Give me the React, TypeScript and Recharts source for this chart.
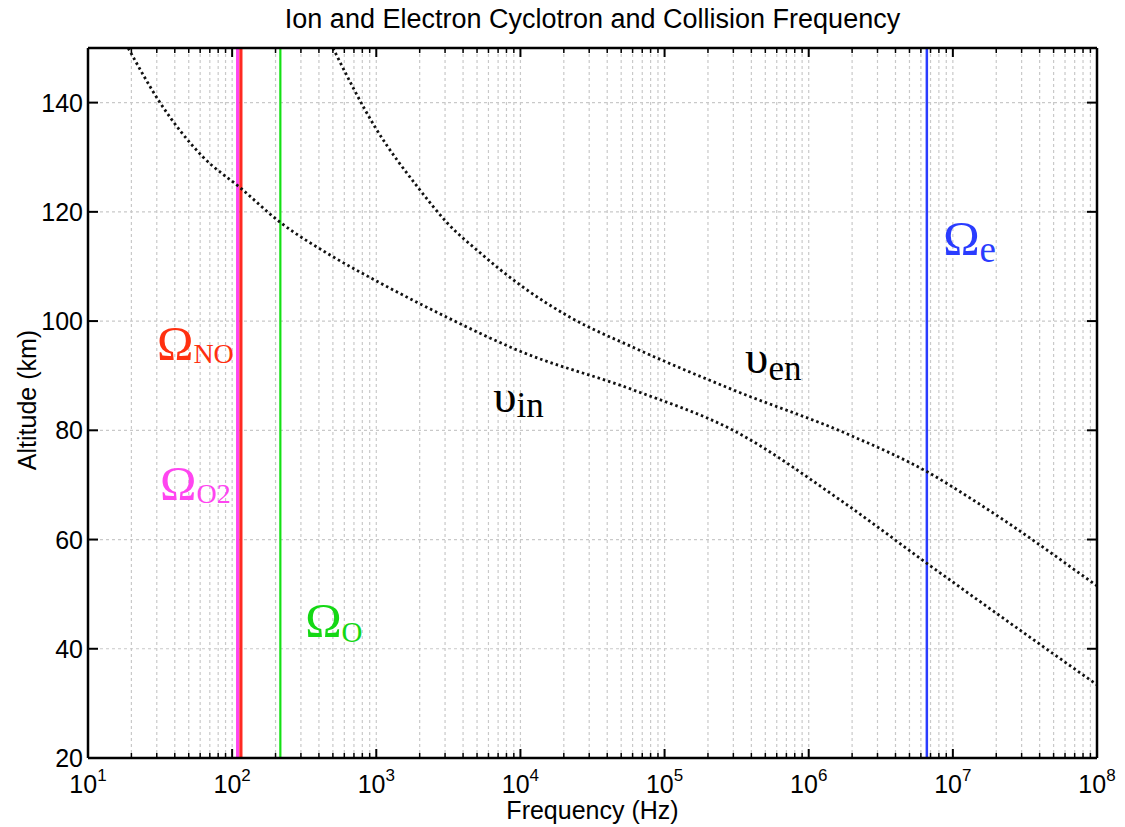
import { LineChart, Line, XAxis, YAxis, CartesianGrid, ReferenceLine, ReferenceDot } from "recharts";

// ion-neutral collision frequency (Hz) vs altitude (km)
const nuInFreq = [19, 31.6, 63, 114, 215, 478, 1060, 3090, 9480, 60500, 299000, 1660000, 6970000, 100000000];
const nuInAlt = [150, 140, 130, 124.4, 118.1, 112.1, 107, 100.7, 94.7, 87.4, 80.0, 67.2, 55.2, 33.4];

// electron-neutral collision frequency
const nuEnFreq = [500, 982, 2010, 3100, 5250, 9950, 22100, 60500, 299000, 1940000, 6640000, 13900000, 100000000];
const nuEnAlt = [150, 135.5, 124.0, 118.0, 112.5, 106.6, 100.7, 95.2, 87.4, 79.1, 72.4, 67.2, 51.5];

// cyclotron frequencies (Hz)
const gyroSpecies = ["O2", "NO", "O", "e"];
const gyroFreq = [109, 115, 216, 6600000];

const xDecades = [10, 100, 1000, 10000, 100000, 1000000, 10000000, 100000000];
const xExponents = ["1", "2", "3", "4", "5", "6", "7", "8"];
const xMinorSteps = [2, 3, 4, 5, 6, 7, 8, 9];
const yTicks = [20, 40, 60, 80, 100, 120, 140];

const xTicks = [...xDecades, ...xDecades.slice(0, -1).flatMap((d) => xMinorSteps.map((m) => d * m))].sort((a, b) => a - b);

const nuIn = nuInFreq.map((f, i) => ({ f, alt: nuInAlt[i] }));
const nuEn = nuEnFreq.map((f, i) => ({ f, alt: nuEnAlt[i] }));

const gyroStyle: Record<string, { color: string; width: number }> = {
  O2: { color: "#ff45f0", width: 3 },
  NO: { color: "#ff2a22", width: 3.2 },
  O: { color: "#14e014", width: 2.2 },
  e: { color: "#2a3cff", width: 2.5 },
};

// label anchors in data coordinates (left end, baseline)
const annotations = [
  { main: "Ω", sub: "NO", f: 30.1, alt: 92.9, color: "#ff3010", subSize: 28, subDy: 3 },
  { main: "Ω", sub: "O2", f: 31.6, alt: 67.2, color: "#ff45f0", subSize: 28, subDy: 3 },
  { main: "Ω", sub: "O", f: 321, alt: 42.2, color: "#14d814", subSize: 29, subDy: 5 },
  { main: "Ω", sub: "e", f: 8570000, alt: 112.1, color: "#2a3cff", subSize: 37, subDy: 7 },
  { main: "υ", sub: "en", f: 362000, alt: 90.5, color: "#000", subSize: 35, subDy: 7 },
  { main: "υ", sub: "in", f: 6470, alt: 83.3, color: "#000", subSize: 35, subDy: 5 },
];

const SANS = "'Liberation Sans', Arial, sans-serif";
const SERIF = "'Liberation Serif', 'Times New Roman', serif";

const isDecade = (v: number) => xDecades.includes(v);

function XTick({ x, y, payload, side }: any) {
  const v = payload.value;
  const major = isDecade(v);
  const len = major ? 9 : 5;
  const dir = side === "bottom" ? -1 : 1;
  const idx = xDecades.indexOf(v);
  return (
    <g>
      <line x1={x} x2={x} y1={y} y2={y + dir * len} stroke="#000" strokeWidth={major ? 2 : 1.5} />
      {major && side === "bottom" && (
        <text x={x} y={y + 35} textAnchor="middle" fontFamily={SANS} fontSize={25} fill="#000">
          10
          <tspan dy={-12} fontSize={17}>
            {xExponents[idx]}
          </tspan>
        </text>
      )}
    </g>
  );
}

function YTick({ x, y, payload, side }: any) {
  const dir = side === "left" ? 1 : -1;
  return (
    <g>
      <line x1={x} x2={x + dir * 10} y1={y} y2={y} stroke="#000" strokeWidth={2} />
      {side === "left" && (
        <text x={x - 5} y={y + 9} textAnchor="end" fontFamily={SANS} fontSize={25} fill="#000">
          {payload.value}
        </text>
      )}
    </g>
  );
}

function GreekLabel({ cx, cy, a }: any) {
  return (
    <text x={cx} y={cy} fontFamily={SERIF} fill={a.color}>
      <tspan fontSize={a.main === "Ω" ? 49 : 47}>{a.main}</tspan>
      <tspan fontSize={a.subSize} dy={a.subDy}>
        {a.sub}
      </tspan>
    </text>
  );
}

const axisLine = { stroke: "#000", strokeWidth: 2.5 };

export default function App() {
  return (
    <div style={{ position: "absolute", left: 0, top: 0, width: 1125, height: 827, background: "#fff" }}>
      <LineChart width={1125} height={827} margin={{ top: 38, right: 18, bottom: 29, left: 28 }}>
        <CartesianGrid stroke="#c9c9c9" strokeDasharray="3 3" strokeWidth={1.2} />
        <XAxis
          dataKey="f"
          type="number"
          scale="log"
          domain={[10, 100000000]}
          allowDataOverflow
          ticks={xTicks}
          interval={0}
          tickLine={false}
          tickSize={0}
          tickMargin={0}
          height={40}
          axisLine={axisLine}
          tick={(p: any) => <XTick {...p} side="bottom" />}
          label={{
            content: ({ viewBox }: any) => (
              <text x={viewBox.x + viewBox.width / 2} y={819} textAnchor="middle" fontFamily={SANS} fontSize={25} fill="#000">
                Frequency (Hz)
              </text>
            ),
          }}
        />
        <XAxis
          xAxisId="top"
          orientation="top"
          dataKey="f"
          type="number"
          scale="log"
          domain={[10, 100000000]}
          allowDataOverflow
          ticks={xTicks}
          interval={0}
          tickLine={false}
          tickSize={0}
          tickMargin={0}
          height={10}
          axisLine={axisLine}
          tick={(p: any) => <XTick {...p} side="top" />}
          label={{
            content: ({ viewBox }: any) => (
              <text x={viewBox.x + viewBox.width / 2} y={28} textAnchor="middle" fontFamily={SANS} fontSize={27} fill="#000">
                Ion and Electron Cyclotron and Collision Frequency
              </text>
            ),
          }}
        />
        <YAxis
          type="number"
          domain={[20, 150]}
          allowDataOverflow
          ticks={yTicks}
          interval={0}
          tickLine={false}
          tickSize={0}
          tickMargin={0}
          width={60}
          axisLine={axisLine}
          tick={(p: any) => <YTick {...p} side="left" />}
          label={{
            content: () => (
              <text x={36} y={400} transform="rotate(-90 36 400)" textAnchor="middle" fontFamily={SANS} fontSize={25} fill="#000">
                Altitude (km)
              </text>
            ),
          }}
        />
        <YAxis
          yAxisId="right"
          orientation="right"
          type="number"
          domain={[20, 150]}
          allowDataOverflow
          ticks={yTicks}
          interval={0}
          tickLine={false}
          tickSize={0}
          tickMargin={0}
          width={10}
          axisLine={axisLine}
          tick={(p: any) => <YTick {...p} side="right" />}
        />
        {gyroSpecies.map((s, i) => (
          <ReferenceLine key={s} x={gyroFreq[i]} stroke={gyroStyle[s].color} strokeWidth={gyroStyle[s].width} />
        ))}
        <Line
          data={nuIn}
          dataKey="alt"
          type="monotone"
          stroke="#111"
          strokeWidth={2.8}
          strokeDasharray="2.5 3"
          dot={false}
          isAnimationActive={false}
        />
        <Line
          data={nuEn}
          dataKey="alt"
          type="monotone"
          stroke="#111"
          strokeWidth={2.8}
          strokeDasharray="2.5 3"
          dot={false}
          isAnimationActive={false}
        />
        {annotations.map((a) => (
          <ReferenceDot
            key={a.main + a.sub}
            x={a.f}
            y={a.alt}
            r={1}
            shape={(p: any) => <GreekLabel {...p} a={a} />}
          />
        ))}
      </LineChart>
    </div>
  );
}
